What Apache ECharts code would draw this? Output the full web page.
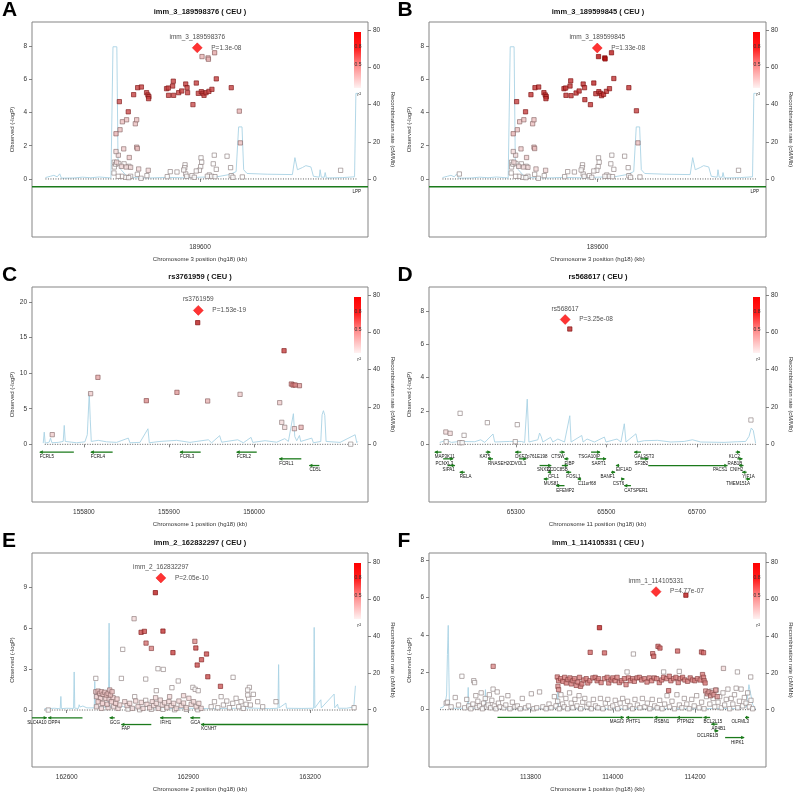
<!DOCTYPE html>
<html><head><meta charset="utf-8">
<script src="https://cdn.jsdelivr.net/npm/echarts@6/dist/echarts.min.js"></script>
<style>html,body{margin:0;padding:0;background:#fff}#c{width:795px;height:795px}</style>
</head><body><div id="c"></div>
<script>
// ===================== DATA =====================
// point format: [position (kb), -log10 P, r2]
const titles = ['imm_3_189598376 ( CEU )','imm_3_189599845 ( CEU )','rs3761959 ( CEU )','rs568617 ( CEU )','imm_2_162832297 ( CEU )','imm_1_114105331 ( CEU )'];
const letters = ['A','B','C','D','E','F'];
const chromLabels = ['Chromosome 3 position (hg18) (kb)','Chromosome 3 position (hg18) (kb)','Chromosome 1 position (hg18) (kb)','Chromosome 11 position (hg18) (kb)','Chromosome 2 position (hg18) (kb)','Chromosome 1 position (hg18) (kb)'];
const leadNames = ['imm_3_189598376','imm_3_189599845','rs3761959','rs568617','imm_2_162832297','imm_1_114105331'];
const leadPs = ['P=1.3e-08','P=1.33e-08','P=1.53e-19','P=3.25e-08','P=2.05e-10','P=4.77e-07'];
const leads = [[189598.376,7.886],[189599.845,7.876],[155934.5,18.815],[65409.0,7.49],[162832.3,9.69],[114105.3,6.32]];

const xRanges = [[189500,189700],[189500,189700],[155739,156134],[65108.2,65852.6],[162514.5,163343],[113553.2,114372.6]];
const xTicks = [[189600],[189600],[155800,155900,156000],[65300,65500,65700],[162600,162900,163200],[113800,114000,114200]];
const yRanges = [[-3.49,9.44],[-3.49,9.44],[-8.1,22.1],[-3.46,9.44],[-4.18,11.52],[-3.07,8.39]];
const yTicks = [[0,2,4,6,8],[0,2,4,6,8],[0,5,10,15,20],[0,2,4,6,8],[0,3,6,9],[0,2,4,6,8]];
const rRanges = [[-31.1,84.3],[-31.1,84.3],[-31.1,84.3],[-31.1,84.3],[-31.1,85.1],[-31.1,85.1]];
const rTicks = [0,20,40,60,80];
const regions = [[189508,189694],[189508,189694],[155754,156122],[65132,65830],[162545,163312],[113580,114348]];
const legendTicks = ['0.8','0.5'];

const lowAB = [[189624.0,2.17,0.25],[189550.0,2.72,0.3],[189552.4,2.96,0.25],[189553.8,3.44,0.25],[189556.3,3.56,0.25],[189561.5,3.32,0.25],[189562.3,3.56,0.25],[189554.6,1.81,0.2],[189557.9,1.29,0.2],[189562.3,1.91,0.25],[189562.7,1.83,0.25],[189551.4,1.43,0.15],[189550.0,1.65,0.15],[189616.1,1.37,0.1],[189608.5,1.43,0.1],[189600.6,1.27,0.1],[189601.0,1.01,0.1],[189600.4,0.74,0.1],[189599.6,0.52,0.1],[189597.8,0.48,0.1],[189591.1,0.85,0.1],[189590.9,0.68,0.1],[189591.5,0.30,0.1],[189590.3,0.54,0.1],[189607.9,0.91,0.1],[189609.7,0.58,0.1],[189586.3,0.42,0.1],[189582.3,0.44,0.1],[189569.2,0.52,0.15],[189563.5,0.60,0.15],[189558.7,0.70,0.15],[189556.1,0.72,0.15],[189553.2,0.76,0.15],[189550.4,1.01,0.15],[189549.0,1.01,0.1],[189549.0,0.72,0.1],[189549.8,0.89,0.1],[189551.6,0.93,0.1],[189554.8,0.91,0.1],[189557.7,0.76,0.1],[189548.8,0.36,0.1],[189562.7,0.28,0.1],[189564.9,0.04,0.1],[189555.7,0.10,0.1],[189553.4,0.16,0.1],[189558.7,0.16,0.1],[189568.4,0.20,0.1],[189580.5,0.14,0.1],[189592.1,0.16,0.1],[189595.2,0.20,0.1],[189596.6,0.10,0.1],[189605.5,0.24,0.1],[189606.9,0.16,0.1],[189608.9,0.14,0.1],[189618.2,0.68,0.1],[189618.6,0.20,0.1],[189619.6,0.10,0.1],[189625.2,0.12,0.1],[189683.7,0.52,0.1],[189551.4,0.16,0.1],[189557.5,0.08,0.1],[189604.4,0.16,0.1]];

const highA = [[189552.0,4.65,0.7],[189557.3,4.04,0.7],[189560.5,5.07,0.75],[189562.9,5.49,0.75],[189565.1,5.53,0.75],[189568.2,5.19,0.75],[189569.0,5.05,0.75],[189569.6,4.95,0.75],[189569.4,4.83,0.75],[189580.1,5.43,0.75],[189581.1,5.47,0.75],[189581.3,5.03,0.75],[189583.7,5.59,0.75],[189584.1,5.88,0.75],[189584.3,5.03,0.75],[189587.3,5.19,0.75],[189589.1,5.29,0.75],[189591.5,5.71,0.75],[189592.3,5.49,0.75],[189592.6,5.19,0.75],[189595.8,4.47,0.7],[189597.8,5.77,0.75],[189599.0,5.15,0.75],[189600.8,5.25,0.75],[189601.8,5.15,0.75],[189602.4,5.03,0.75],[189603.6,5.19,0.75],[189605.3,5.27,0.75],[189607.1,5.39,0.75],[189609.7,6.02,0.75],[189618.6,5.49,0.75],[189601.2,7.36,0.3],[189604.8,7.28,0.3],[189605.0,7.20,0.3],[189608.7,7.59,0.35],[189623.4,4.08,0.3]];
const highB = [[189552.0,4.65,0.75],[189557.3,4.04,0.75],[189560.5,5.07,0.8],[189562.9,5.49,0.8],[189565.1,5.53,0.8],[189568.2,5.19,0.8],[189569.0,5.05,0.8],[189569.6,4.95,0.8],[189569.4,4.83,0.8],[189580.1,5.43,0.8],[189581.1,5.47,0.8],[189581.3,5.03,0.8],[189583.7,5.59,0.8],[189584.1,5.90,0.8],[189584.3,5.01,0.8],[189587.3,5.17,0.8],[189589.1,5.29,0.8],[189591.5,5.71,0.8],[189592.3,5.49,0.8],[189592.5,4.77,0.8],[189595.8,4.47,0.8],[189597.8,5.77,0.85],[189599.0,5.13,0.8],[189600.8,5.25,0.8],[189601.8,5.15,0.8],[189602.4,5.01,0.8],[189603.6,5.09,0.8],[189605.3,5.27,0.8],[189607.1,5.43,0.8],[189609.7,6.04,0.8],[189618.6,5.49,0.8],[189600.6,7.36,0.95],[189604.3,7.28,0.95],[189604.5,7.22,0.95],[189608.3,7.59,0.9],[189623.1,4.10,0.75],[189518.0,0.30,0.1]];

const snpC = [[155933.8,17.09,0.9],[156035.3,13.15,0.75],[155816.5,9.41,0.35],[155807.9,7.12,0.2],[155873.4,6.13,0.45],[155909.4,7.30,0.4],[155945.5,6.09,0.3],[155983.6,7.02,0.2],[156030.2,5.85,0.2],[156043.9,8.47,0.45],[156045.9,8.33,0.5],[156048.3,8.33,0.5],[156053.4,8.24,0.4],[156032.6,3.09,0.15],[156036.1,2.39,0.15],[156047.5,2.20,0.2],[156055.3,2.39,0.3],[155762.8,1.36,0.2],[156113.7,0.02,0.05]];

const snpD = [[65419.2,6.92,0.85],[65145.4,0.74,0.15],[65154.9,0.66,0.15],[65176.9,1.86,0.1],[65185.7,0.54,0.1],[65237.1,1.30,0.1],[65303.2,1.18,0.1],[65819.3,1.46,0.1],[65146.1,0.16,0.1],[65176.2,0.10,0.1],[65181.4,0.10,0.1],[65298.8,0.16,0.1]];

const snpE = [[162818.7,8.61,0.9],[162766.2,6.70,0.15],[162783.5,5.70,0.7],[162791.6,5.77,0.7],[162837.4,5.79,0.8],[162795.7,4.91,0.55],[162808.9,4.52,0.5],[162738.2,4.45,0.1],[162862.0,4.21,0.75],[162916.1,5.04,0.45],[162918.5,4.55,0.7],[162944.8,4.11,0.7],[162932.5,3.69,0.7],[162921.8,3.30,0.7],[162948.0,2.44,0.7],[162979.2,1.74,0.65],[162825.1,3.03,0.1],[162838.2,2.98,0.1],[162734.9,2.32,0.1],[162671.8,2.32,0.1],[162794.9,2.27,0.1],[162875.1,2.13,0.1],[163010.3,2.40,0.1],[162821.0,1.42,0.1],[162911.1,1.66,0.1],[162916.9,1.52,0.1],[162924.3,1.42,0.1],[163050.5,1.66,0.1],[163046.4,1.47,0.1],[162859.5,1.64,0.1],[162767.7,0.98,0.1],[162794.9,0.71,0.1],
[162671.8,1.34,0.25],[162677.5,1.39,0.25],[162681.6,1.22,0.25],[162685.7,1.34,0.25],[162689.8,1.15,0.25],[162693.9,1.30,0.25],[162698.0,1.10,0.25],[162702.1,1.22,0.25],[162706.2,1.47,0.25],[162707.9,1.10,0.25],[162712.0,1.34,0.25],[162673.5,0.98,0.2],[162683.3,0.86,0.2],[162696.4,0.86,0.2],[162704.5,0.81,0.2],[162714.4,0.90,0.2],[162677.5,0.61,0.2],[162688.2,0.49,0.2],[162699.7,0.42,0.2],[162710.3,0.61,0.2],[162720.9,0.49,0.2],[162724.2,0.81,0.2],[162673.5,0.24,0.15],[162685.7,0.12,0.15],[162702.1,0.17,0.15],[162716.0,0.24,0.15],[162726.7,0.12,0.15],[162730.8,0.37,0.15],
[162743.1,0.61,0.15],[162748.9,0.32,0.15],[162755.4,0.49,0.15],[162762.0,0.12,0.15],[162770.2,0.66,0.15],[162775.9,0.24,0.15],[162784.1,0.56,0.15],[162788.2,0.12,0.15],[162798.0,0.42,0.15],[162804.6,0.17,0.15],[162811.1,0.61,0.15],[162814.4,0.32,0.15],[162821.0,0.49,0.15],[162825.9,0.12,0.15],[162830.8,0.73,0.15],[162835.7,0.37,0.15],[162841.5,0.54,0.15],[162847.2,0.17,0.15],[162852.1,0.61,0.15],[162857.9,0.32,0.15],[162863.6,0.49,0.15],[162870.2,0.12,0.15],[162876.7,0.66,0.15],[162882.5,0.32,0.15],[162888.2,0.51,0.15],[162894.8,0.17,0.15],[162901.3,0.86,0.15],[162907.1,0.42,0.15],[162912.8,0.61,0.15],[162919.3,0.24,0.15],[162925.9,0.49,0.15],[162931.6,0.12,0.15],[162751.3,0.07,0.1],[162780.0,0.02,0.1],[162808.7,0.05,0.1],[162837.4,0.05,0.1],[162866.1,0.02,0.1],[162894.8,0.05,0.1],[162923.4,0.02,0.1],[162819.3,0.90,0.15],[162853.8,0.98,0.15],[162888.2,1.05,0.15],
[162956.2,0.24,0.1],[162964.4,0.61,0.1],[162972.6,0.17,0.1],[162980.8,0.98,0.1],[162986.5,0.37,0.1],[162994.8,0.66,0.1],[163001.3,0.17,0.1],[163009.5,0.49,0.1],[163017.7,0.86,0.1],[163024.3,0.24,0.1],[163030.0,0.61,0.1],[163035.7,0.12,0.1],[163042.3,0.42,0.1],[163048.8,0.86,0.1],[163052.9,0.37,0.1],[163060.3,1.15,0.1],[163071.0,0.61,0.1],[163083.3,0.24,0.1],[163116.1,0.61,0.1],[162554.6,0.00,0.1],[163308.7,0.17,0.1],[163046.4,1.10,0.1]];

const snpF = [[114177.8,6.13,0.9],[113967.7,4.39,0.85],[113945.1,3.07,0.6],[113979.9,3.04,0.6],[114050.2,2.98,0.1],[114097.0,3.00,0.55],[114099.5,2.86,0.6],[114110.0,3.39,0.6],[114114.8,3.30,0.6],[114157.6,3.14,0.6],[114215.8,3.09,0.6],[114220.7,3.05,0.6],[113709.2,2.32,0.45],[114269.2,2.21,0.15],[113633.2,1.79,0.1],[114303.1,2.02,0.1],[114034.8,2.02,0.1],[114161.7,2.05,0.1],[114123.7,2.02,0.1],[114335.4,1.75,0.1],
[113865.1,1.75,0.5],[113868.3,1.55,0.5],[113873.2,1.66,0.5],[113878.8,1.52,0.5],[113882.9,1.73,0.5],[113886.9,1.43,0.5],[113890.9,1.61,0.5],[113895.8,1.70,0.5],[113899.0,1.38,0.5],[113903.1,1.55,0.5],[113907.1,1.66,0.5],[113911.1,1.30,0.5],[113915.2,1.48,0.5],[113919.2,1.73,0.5],[113921.6,1.25,0.5],[113924.9,1.38,0.5],[113929.7,1.59,0.5],[113935.4,1.66,0.5],[113939.4,1.43,0.5],[113944.3,1.55,0.5],[113951.5,1.70,0.5],[113957.2,1.73,0.5],[113962.0,1.55,0.5],[113965.3,1.66,0.5],[113971.7,1.45,0.5],[113979.8,1.66,0.5],[113986.3,1.73,0.5],[113990.3,1.43,0.5],[113996.0,1.59,0.5],[114000.0,1.70,0.5],[114005.7,1.55,0.5],[114010.5,1.73,0.5],[114016.2,1.45,0.5],[114021.8,1.55,0.5],[114028.3,1.66,0.5],[114032.3,1.34,0.5],[114038.0,1.70,0.5],[114042.8,1.55,0.5],[114048.5,1.66,0.5],[114052.5,1.52,0.5],[114059.0,1.70,0.5],[114064.7,1.73,0.5],[114070.3,1.59,0.5],[114076.8,1.66,0.5],[114083.2,1.48,0.5],[114088.9,1.70,0.5],[114094.6,1.55,0.5],[114101.0,1.70,0.5],[114106.7,1.66,0.5],[114113.1,1.45,0.5],[114118.8,1.59,0.5],[114123.6,1.73,0.5],[114130.9,1.66,0.5],[114137.4,1.79,0.5],[114141.4,1.55,0.5],[114147.9,1.66,0.5],[114153.5,1.73,0.5],[114159.2,1.45,0.5],[114164.0,1.66,0.5],[114169.7,1.73,0.5],[114175.4,1.59,0.5],[114181.8,1.52,0.5],[114188.3,1.70,0.5],[114193.9,1.59,0.5],[114199.6,1.55,0.5],[114206.1,1.66,0.5],[114212.5,1.59,0.5],[114218.2,1.88,0.5],[114220.6,1.73,0.5],[114222.2,1.55,0.5],[114224.6,1.43,0.5],[114135.8,1.02,0.55],[113866.7,1.25,0.45],[113868.3,1.07,0.45],
[114226,1.00,0.4],[114230,0.85,0.4],[114234,0.95,0.4],[114238,0.75,0.4],[114242,0.90,0.4],[114246,0.80,0.4],[114250,1.05,0.4],[114254,0.70,0.4],
[113595,0.35,0.1],[113598,0.40,0.1],[113607,0.15,0.1],[113617,0.65,0.1],[113625,0.25,0.1],[113640,0.10,0.1],[113645,0.55,0.1],[113650,0.20,0.1],[113655,0.05,0.1],[113660,0.30,0.1],[113662,1.55,0.1],[113664,1.45,0.1],[113667,0.75,0.1],[113670,0.12,0.1],[113672,0.45,0.1],[113676,0.20,0.1],[113680,0.90,0.1],[113683,0.05,0.1],[113686,0.35,0.1],[113690,0.60,0.1],[113693,0.15,0.1],[113697,0.25,0.1],[113700,0.80,0.1],[113703,0.10,0.1],[113706,0.50,0.1],[113709,1.10,0.1],[113712,0.20,0.1],[113716,0.05,0.1],[113719,0.95,0.1],[113722,0.35,0.1],[113726,0.15,0.1],[113730,0.60,0.1],[113735,0.10,0.1],[113740,0.25,0.1],[113745,0.75,0.1],[113750,0.05,0.1],[113756,0.40,0.1],[113762,0.15,0.1],[113768,0.20,0.1],[113775,0.05,0.1],[113780,0.60,0.1],[113788,0.10,0.1],[113795,0.20,0.1],[113802,0.85,0.1],[113808,0.05,0.1],[113815,0.10,0.1],[113822,0.95,0.1],[113830,0.15,0.1],[113838,0.05,0.1],[113845,0.30,0.1],[113850,0.10,0.1],
[113858,0.70,0.1],[113862,0.20,0.1],[113866,0.45,0.1],[113870,0.05,0.1],[113874,0.80,0.1],[113878,0.30,0.1],[113882,0.15,0.1],[113886,0.60,0.1],[113890,0.05,0.1],[113895,0.90,0.1],[113899,0.35,0.1],[113903,0.10,0.1],[113908,0.55,0.1],[113913,0.20,0.1],[113918,0.75,0.1],[113922,0.05,0.1],[113927,0.40,0.1],[113932,0.60,0.1],[113937,0.15,0.1],[113942,0.30,0.1],[113948,0.05,0.1],[113953,0.55,0.1],[113958,0.20,0.1],[113964,0.10,0.1],[113970,0.60,0.1],[113976,0.05,0.1],[113982,0.35,0.1],[113988,0.55,0.1],[113994,0.10,0.1],[114000,0.20,0.1],[114006,0.50,0.1],[114012,0.05,0.1],[114018,0.35,0.1],[114024,0.60,0.1],[114030,0.10,0.1],[114036,0.45,0.1],[114042,0.20,0.1],[114048,0.05,0.1],[114054,0.55,0.1],[114060,0.25,0.1],[114066,0.10,0.1],[114072,0.60,0.1],[114078,0.15,0.1],[114084,0.35,0.1],[114090,0.05,0.1],[114096,0.55,0.1],[114102,0.20,0.1],[114108,0.10,0.1],[114114,0.50,0.1],[114120,0.05,0.1],[114126,0.30,0.1],[114132,0.75,0.1],[114138,0.15,0.1],[114144,0.45,0.1],[114150,0.05,0.1],[114156,0.80,0.1],[114162,0.25,0.1],[114168,0.10,0.1],[114174,0.60,0.1],[114180,0.30,0.1],[114186,0.05,0.1],[114192,0.55,0.1],[114198,0.20,0.1],[114204,0.75,0.1],[114210,0.10,0.1],[114216,0.40,0.1],[114222,0.05,0.1],[114228,0.70,0.1],
[114232,0.95,0.1],[114236,0.30,0.1],[114240,1.00,0.1],[114244,0.60,0.1],[114248,0.15,0.1],[114252,1.05,0.1],[114256,0.40,0.1],[114260,0.70,0.1],[114264,0.10,0.1],[114268,0.90,0.1],[114272,0.25,0.1],[114276,0.55,0.1],[114280,1.10,0.1],[114284,0.05,0.1],[114288,0.60,0.1],[114292,0.30,0.1],[114296,0.80,0.1],[114300,1.15,0.1],[114304,0.10,0.1],[114308,0.45,0.1],[114312,1.10,0.1],[114316,0.20,0.1],[114320,0.65,0.1],[114324,0.35,0.1],[114328,0.90,0.1],[114332,0.15,0.1],[114336,0.50,0.1],[114340,0.05,0.1]];

// recombination rate: [position (kb), cM/Mb]
const recombAB = [[189508,0.8],[189511,1.5],[189513,2.0],[189515,1.2],[189516.5,2.8],[189517.5,0.5],[189525,0.6],[189530,1.0],[189535,0.7],[189540,1.1],[189547,0.6],[189548.2,71],[189550.5,71],[189551.2,10],[189553,5],[189556,2],[189560,0.8],[189570,0.6],[189580,0.9],[189590,0.7],[189600,1.0],[189610,1.2],[189618,2.5],[189621.5,4],[189623,28],[189625,28],[189626,5],[189628,3],[189640,2.6],[189655,2.4],[189656.5,11.5],[189658,5],[189661,6.2],[189663,7.2],[189666,6.5],[189667.5,1.5],[189671,1],[189671.5,5],[189672.2,1],[189674,1],[189674.5,3.5],[189675.2,0.6],[189685,0.8],[189692,1.2],[189692.8,46],[189694,46]];
const recombC = [[155752.2,0.5],[155753.4,6.4],[155754.5,0.5],[155759.2,1],[155760.8,3.2],[155762.4,0.7],[155769.8,0.9],[155775.7,1.4],[155776.9,10],[155778.1,1.4],[155791.4,0.7],[155801.2,1.2],[155804,5],[155806.3,27.3],[155807.5,13],[155808.7,1.4],[155816.9,2],[155826.7,1.2],[155838.5,0.9],[155852.2,3.2],[155854.1,0.7],[155865.9,0.9],[155875.3,8.2],[155876.9,0.7],[155889.4,1.4],[155909.1,2],[155924.7,0.9],[155946.3,2.3],[155950.2,0.7],[155959.6,4.5],[155962,1],[155980.8,2.3],[155987.5,0.7],[155996.5,3.6],[155998.5,0.9],[156013,1.8],[156026.7,1],[156036.1,2.9],[156040.4,1.4],[156046.3,16.3],[156047.9,4.1],[156050.2,1.8],[156053.4,4.6],[156054.9,1.4],[156067.9,3.2],[156069.8,0.7],[156078.5,1.4],[156080,15.7],[156081.6,17.9],[156083.2,15.4],[156084.7,1.4],[156101.2,0.9],[156118.9,5],[156120.8,0.7],[156122,1.4]];
const recombD = [[65132,0.9],[65146.8,2],[65157.8,0.9],[65176.2,1.4],[65209.2,1.25],[65222.4,2.3],[65231.3,0.9],[65249.6,5.4],[65253.3,1.1],[65286.3,1.4],[65312,1.4],[65319.4,0.9],[65325.2,24.1],[65328.9,1.1],[65348.7,2.3],[65352.4,5.9],[65356,4.1],[65359.7,1.1],[65376.6,3.6],[65381.8,1.1],[65392.8,2.7],[65407.5,1.1],[65419.2,15.2],[65422.1,1.1],[65445.6,4.6],[65448.6,1.1],[65457.4,2.7],[65473.5,1.1],[65495.6,3.75],[65499.2,1.1],[65523.5,2.7],[65532.3,1.1],[65539.6,10.9],[65543.3,1.1],[65565.3,5.5],[65569,1.1],[65583.7,1.8],[65613.1,2],[65642.4,1.1],[65671.8,1.4],[65690.1,2.3],[65708.5,1.1],[65759.9,0.9],[65789.3,1.25],[65807.6,1.4],[65815,4.1],[65820.1,8.6],[65824.5,7.3],[65829.6,0.5]];
const recombE = [[162545,0.5],[162570,0.8],[162584,0.5],[162585.7,7.2],[162587,0.6],[162600,0.8],[162617,0.7],[162618.5,20.5],[162620,0.8],[162629,0.7],[162630.8,2.7],[162633,1.5],[162640,2],[162650,1],[162668,1],[162669.3,15.4],[162670.5,1.2],[162690,1.5],[162703,1.2],[162704.6,47],[162706,1.5],[162718,1],[162737,1.8],[162760,0.8],[162797,1.8],[162820,0.9],[162850,0.6],[162900,0.8],[162950,0.6],[163000,0.7],[163050,0.9],[163100,0.6],[163121,0.8],[163122.6,24.5],[163124,1],[163140.6,3.6],[163142,0.8],[163180,0.7],[163209,0.8],[163210.3,44.7],[163212,1],[163226.7,5.4],[163228,1],[163259.5,8.5],[163261,1],[163268,3],[163270,0.8],[163290,0.8],[163308,1.5],[163312,13]];
const recombF = [[113580,0.8],[113588,1.5],[113592,3],[113596,8],[113598,30],[113600,45.8],[113601.5,20],[113603,2],[113610,0.8],[113640,0.8],[113647,1.5],[113648.5,12.1],[113650,1.5],[113660,0.8],[113688,1],[113690.5,10.9],[113692,1],[113720,0.6],[113760,0.5],[113800,0.8],[113850,0.6],[113865,1],[113866.5,10],[113868,1],[113900,0.5],[113950,0.6],[114000,0.5],[114050,0.6],[114100,0.5],[114150,0.6],[114200,0.5],[114250,0.7],[114300,0.6],[114325,1.5],[114331,13.6],[114335,9],[114340,3],[114345,1],[114348,0.5]];

// genes: [start kb, end kb, track row, strand, name]
const genesAB = [[189350,189850,1,1,'LPP']];
const genesC = [[155748.2,155788.2,1,-1,'FCRL5'],[155808.2,155833.8,1,-1,'FCRL4'],[155912.9,155937.3,1,-1,'FCRL3'],[155979.6,156003.2,1,-1,'FCRL2'],[156029.8,156055.6,2,-1,'FCRL1'],[156065.1,156076.8,3,-1,'CD5L']];
const genesD = [[65121.1,65135.8,1,-1,'MAP3K11'],[65233.5,65243.7,1,1,'KAT5'],[65298.8,65312.0,1,-1,'DKFZp761E198'],[65396.5,65407.5,1,1,'CTSW'],[65466.2,65486.0,1,1,'TSGA10IP'],[65561.7,65576.3,1,-1,'GAL3ST3'],[65785.6,65795.2,1,1,'KLC2'],
[65139.5,65161.5,2,1,'PCNXL3'],[65238.6,65249.6,2,-1,'RNASEH2C'],[65306.9,65323.0,2,1,'OVOL1'],[65407.5,65416.3,2,-1,'FIBP'],[65477.2,65499.2,2,1,'SART1'],[65574.9,65592.5,2,1,'SF3B2'],[65789.3,65800.3,2,1,'RAB1B'],
[65149.0,65165.2,3,1,'SIPA1'],[65352.4,65378.1,3,1,'SNX32'],[65401.6,65414.8,3,1,'CCDC85B'],[65521.3,65528.6,3,-1,'EIF1AD'],[65592.5,65767.2,3,1,'PACS1'],[65793.0,65802.5,3,1,'CNIH2'],
[65176.2,65187.2,4,-1,'RELA'],[65370.8,65378.1,4,-1,'CFL1'],[65411.1,65422.2,4,-1,'FOSL1'],[65510.3,65519.1,4,1,'BANF1'],[65800.3,65809.8,4,-1,'YIF1A'],
[65361.9,65372.2,5,-1,'MUS81'],[65436.8,65444.2,5,-1,'C11orf68'],[65532.3,65539.6,5,1,'CST6'],[65807.6,65817.2,5,1,'TMEM151A'],
[65389.1,65407.5,6,-1,'EFEMP2'],[65539.6,65554.3,6,-1,'CATSPER1']];
const genesE = [[162480,162550.5,1,1,'SLC4A10'],[162554.6,162639.0,1,-1,'DPP4'],[162706.2,162718.5,1,-1,'GCG'],[162830.8,162882.5,1,-1,'IFIH1'],[162905.4,162929.2,1,-1,'GCA'],[162734.9,162808.7,2,-1,'FAP'],[162931.6,163400,2,-1,'KCNH7']];
const genesF = [[113719.7,114026.7,1,1,'MAGI3'],[114032.3,114099.3,1,-1,'PHTF1'],[114101.0,114156.0,1,-1,'RSBN1'],[114156.0,114218.2,1,-1,'PTPN22'],[114220.7,114236.8,1,-1,'BCL2L15'],[114321.7,114331.3,1,1,'OLFML3'],[114240.0,114254.6,2,-1,'AP4B1'],[114246.5,114256.2,3,1,'DCLRE1B'],[114273.2,114319.4,4,1,'HIPK1']];

const snps = [lowAB.concat(highA), lowAB.concat(highB), snpC, snpD, snpE, snpF];
const recombs = [recombAB, recombAB, recombC, recombD, recombE, recombF];
const genes = [genesAB, genesAB, genesC, genesD, genesE, genesF];

// ===================== LAYOUT =====================
const BOX = [[32,22,336,215],[429,22,338,215],[32,287,336,215],[429,287,338,215],[32,553,336,214],[429,553,338,214]];
const FONT = 'Liberation Sans';

function hex2rgb(h){return [parseInt(h.substr(1,2),16),parseInt(h.substr(3,2),16),parseInt(h.substr(5,2),16)];}
function mix(a,b,t){const A=hex2rgb(a),B=hex2rgb(b);return 'rgb('+A.map((v,i)=>Math.round(v+(B[i]-v)*t)).join(',')+')';}
function fillOf(r){return r<0.12?'#ffffff':mix('#ffffff','#b00000',Math.min(1,r));}
function edgeOf(r){return mix('#8c8c8c','#7a0000',Math.min(1,r*1.15));}
const plain = v => String(v);

function geneRenderer(list){
  return function(params, api){
    const cs = params.coordSys;
    const g = list[params.dataIndex];
    const p1 = api.coord([g[0],0]), p2 = api.coord([g[1],0]);
    const y = p1[1] + 7.8 + 6.7*(g[2]-1);
    const left = cs.x, right = cs.x + cs.width;
    const xl = Math.max(p1[0], left), xr = Math.min(p2[0], right);
    const ch = [{type:'line', shape:{x1:xl,y1:y,x2:xr,y2:y}, style:{stroke:'#1b7a1b', lineWidth:1.3}}];
    if (g[3] < 0 && p1[0] >= left) ch.push({type:'polygon', shape:{points:[[p1[0]-0.5,y],[p1[0]+3,y-1.8],[p1[0]+3,y+1.8]]}, style:{fill:'#1b7a1b'}});
    if (g[3] > 0 && p2[0] <= right) ch.push({type:'polygon', shape:{points:[[p2[0]+0.5,y],[p2[0]-3,y-1.8],[p2[0]-3,y+1.8]]}, style:{fill:'#1b7a1b'}});
    let lx, al;
    if (g[3] < 0) { lx = Math.max(p1[0], left+1); al = 'left'; } else { lx = Math.min(p2[0], right-7); al = 'right'; }
    ch.push({type:'text', style:{text:g[4], x:lx, y:y+2.2, align:al, verticalAlign:'top', fontSize:4.5, fontFamily:FONT, fill:'#111'}});
    return {type:'group', children:ch};
  };
}

const grids=[], xAxes=[], yAxes=[], series=[], graphics=[];
for (let i=0;i<6;i++){
  const [L,T,W,H] = BOX[i];
  grids.push({left:L, top:T, width:W, height:H, show:true, borderColor:'#858585', borderWidth:1});
  const tickStyle = {lineStyle:{color:'#666', width:0.8}, length:3};
  xAxes.push({gridIndex:i, type:'value', min:xRanges[i][0], max:xRanges[i][1], splitLine:{show:false}, axisLine:{show:false},
    axisTick:Object.assign({customValues:xTicks[i]}, tickStyle), axisLabel:{customValues:xTicks[i], formatter:plain, fontSize:6.5, color:'#333', margin:7},
    name:chromLabels[i], nameLocation:'middle', nameGap:19, nameTextStyle:{fontSize:6, color:'#333'}});
  yAxes.push({gridIndex:i, type:'value', position:'left', min:yRanges[i][0], max:yRanges[i][1], splitLine:{show:false}, axisLine:{show:false},
    axisTick:Object.assign({customValues:yTicks[i]}, tickStyle), axisLabel:{customValues:yTicks[i], formatter:plain, fontSize:6.5, color:'#333', margin:5},
    name:'Observed (-logP)', nameLocation:'middle', nameGap:17, nameTextStyle:{fontSize:6, color:'#333'}});
  yAxes.push({gridIndex:i, type:'value', position:'right', min:rRanges[i][0], max:rRanges[i][1], splitLine:{show:false}, axisLine:{show:false},
    axisTick:Object.assign({customValues:rTicks}, tickStyle), axisLabel:{customValues:rTicks, formatter:plain, fontSize:6.5, color:'#333', margin:5},
    name:'Recombination rate (cM/Mb)', nameLocation:'middle', nameRotate:-90, nameGap:22, nameTextStyle:{fontSize:6, color:'#333'}});
  const yl = 2*i, yr = 2*i+1;
  series.push({type:'line', xAxisIndex:i, yAxisIndex:yr, data:recombs[i], symbol:'none', silent:true, lineStyle:{color:'#a9d3e4', width:0.9}, z:1});
  series.push({type:'line', xAxisIndex:i, yAxisIndex:yl, data:[[regions[i][0],0],[regions[i][1],0]], symbol:'none', silent:true, lineStyle:{color:'#333', width:0.8, type:[1,1.5]}, z:2});
  series.push({type:'custom', xAxisIndex:i, yAxisIndex:yl, renderItem:geneRenderer(genes[i]), data:genes[i].map(g=>[g[0],g[1],g[2],g[3]]), encode:{x:[0,1]}, silent:true, z:3});
  const pts = snps[i].slice().sort((a,b)=>a[2]-b[2]).map(p=>({value:[p[0],p[1]], itemStyle:{color:fillOf(p[2]), borderColor:edgeOf(p[2]), borderWidth:0.8}}));
  series.push({type:'scatter', xAxisIndex:i, yAxisIndex:yl, symbol:'rect', symbolSize:4.3, data:pts, silent:true, z:4});
  series.push({type:'scatter', xAxisIndex:i, yAxisIndex:yl, symbol:'diamond', symbolSize:10, data:[leads[i]], silent:true, z:5,
    itemStyle:{color:'#ff0000', borderColor:'#e00000', borderWidth:0.5},
    label:{show:true, position:'top', distance:2, formatter:leadNames[i], fontSize:6.5, color:'#222', fontFamily:FONT}});
  series.push({type:'scatter', xAxisIndex:i, yAxisIndex:yl, symbol:'rect', symbolSize:10, data:[leads[i]], silent:true, z:5,
    itemStyle:{color:'rgba(0,0,0,0)'},
    label:{show:true, position:'right', distance:9, formatter:leadPs[i], fontSize:6.5, color:'#222', fontFamily:FONT}});
  graphics.push({type:'text', x:(i%2===0?2:397.5), y:T-11.5, style:{text:letters[i], font:'bold 21px '+FONT, fill:'#000', align:'left', verticalAlign:'middle'}});
  graphics.push({type:'text', x:L+W/2, y:T-10, style:{text:titles[i], font:'bold 7.5px '+FONT, fill:'#111', align:'center', verticalAlign:'middle'}});
  graphics.push({type:'rect', shape:{x:L+W-14, y:T+10, width:7, height:56}, style:{fill:new echarts.graphic.LinearGradient(0,0,0,1,[{offset:0,color:'#ff0000'},{offset:0.3,color:'#ff2020'},{offset:0.6,color:'#ff8a8a'},{offset:1,color:'#fff2f2'}])}});
  graphics.push({type:'text', x:L+W-6.5, y:T+25, style:{text:legendTicks[0], font:'5px '+FONT, fill:'#333', align:'right', verticalAlign:'middle'}});
  graphics.push({type:'text', x:L+W-6.5, y:T+43, style:{text:legendTicks[1], font:'5px '+FONT, fill:'#333', align:'right', verticalAlign:'middle'}});
  graphics.push({type:'text', x:L+W-7, y:T+72, style:{text:'r²', font:'5.5px '+FONT, fill:'#333', align:'right', verticalAlign:'middle'}});
}

const chart = echarts.init(document.getElementById('c'), null, {renderer:'canvas'});
chart.setOption({
  animation:false, backgroundColor:'#ffffff', textStyle:{fontFamily:FONT},
  grid:grids, xAxis:xAxes, yAxis:yAxes, series:series, graphic:graphics
});
</script></body></html>
